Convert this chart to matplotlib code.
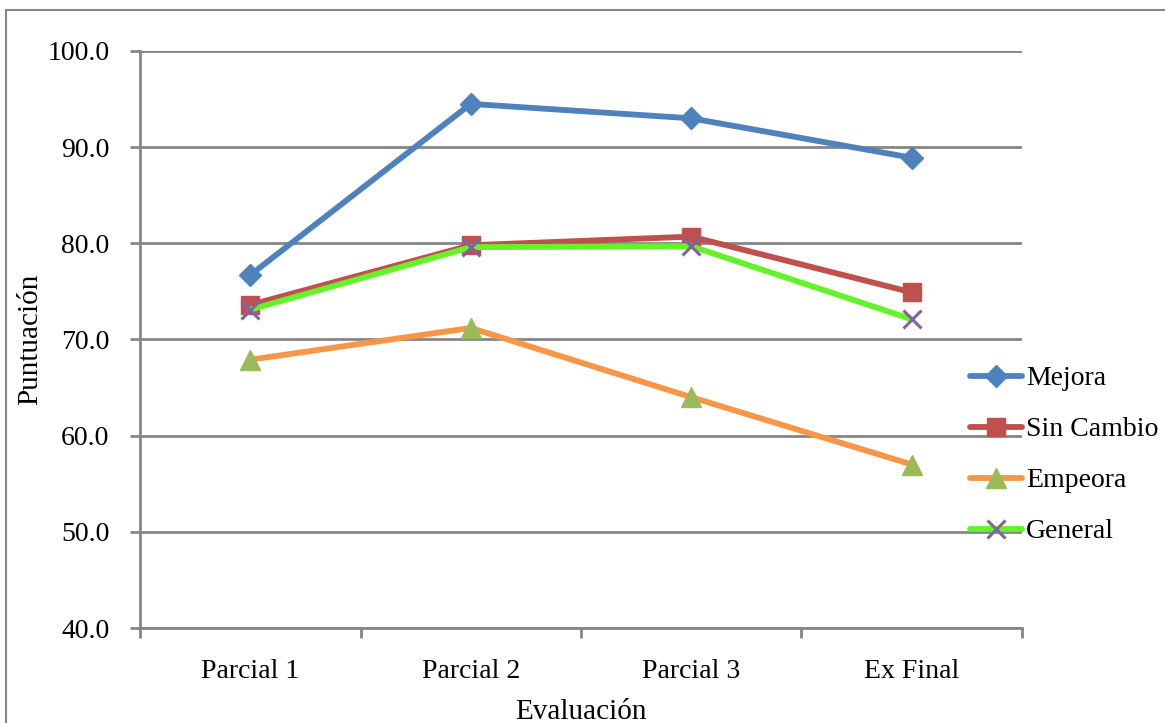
import matplotlib.pyplot as plt
from matplotlib.patches import Rectangle

# Promedios por evaluación
evaluaciones = ["Parcial 1", "Parcial 2", "Parcial 3", "Ex Final"]
mejora = [76.7, 94.5, 93.0, 88.9]
sin_cambio = [73.6, 79.8, 80.7, 74.9]
empeora = [67.9, 71.2, 64.0, 57.0]
general = [73.1, 79.6, 79.7, 72.1]

plt.rcParams["font.family"] = ["Liberation Serif", "DejaVu Serif"]

fig = plt.figure(figsize=(11.65, 7.23), dpi=100)
ax = fig.add_axes([140 / 1165, 1 - 628 / 723, 882 / 1165, 577 / 723])

x = range(len(evaluaciones))
ax.plot(x, mejora, color="#4F81BD", lw=4.2, marker="D", ms=11,
        mfc="#4F81BD", mec="#4F81BD", label="Mejora", solid_capstyle="round")
ax.plot(x, sin_cambio, color="#C0504D", lw=4.2, marker="s", ms=13,
        mfc="#C0504D", mec="#C0504D", label="Sin Cambio", solid_capstyle="round")
ax.plot(x, empeora, color="#F79646", lw=4.2, marker="^", ms=14,
        mfc="#9BBB59", mec="#9BBB59", label="Empeora", solid_capstyle="round")
ax.plot(x, general, color="#66F22A", lw=4.2, marker="x", ms=13, mew=2.2,
        mfc="#8064A2", mec="#8064A2", label="General", solid_capstyle="round")

ax.set_xlim(-0.5, 3.5)
ax.set_ylim(40, 100)
ax.set_yticks(range(40, 101, 10))
ax.set_yticklabels([f"{v:.1f}" for v in range(40, 101, 10)])
ax.set_xticks([i - 0.5 for i in range(5)])
ax.set_xticklabels([])
ax.set_xticks(list(x), minor=True)
ax.set_xticklabels(evaluaciones, minor=True)
ax.tick_params(axis="x", which="major", length=7, width=2, color="#868686")
ax.tick_params(axis="x", which="minor", length=0, pad=22, labelsize=20)
ax.tick_params(axis="y", length=7, width=2, color="#868686", pad=15, labelsize=20)

ax.grid(axis="y", color="#868686", lw=2)
ax.set_axisbelow(True)
for side in ["top", "right"]:
    ax.spines[side].set_visible(False)
for side in ["left", "bottom"]:
    ax.spines[side].set_color("#868686")
    ax.spines[side].set_linewidth(2)

ax.set_ylabel("Puntuación", fontsize=21, labelpad=3)
ax.set_xlabel("Evaluación", fontsize=21, labelpad=11)

fig.legend(loc="center left", bbox_to_anchor=(962 / 1165, 1 - 455 / 723),
           frameon=False, fontsize=20, handlelength=1.85, handletextpad=0.15,
           labelspacing=0.92, borderaxespad=0, borderpad=0.3)

# marco exterior del gráfico
fig.patches.append(Rectangle((6 / 1165, -0.05), 1.2, 1 - 10 / 723 + 0.05,
                             transform=fig.transFigure, fill=False,
                             edgecolor="#868686", lw=1.5))

fig.savefig("out.png", dpi=100)
